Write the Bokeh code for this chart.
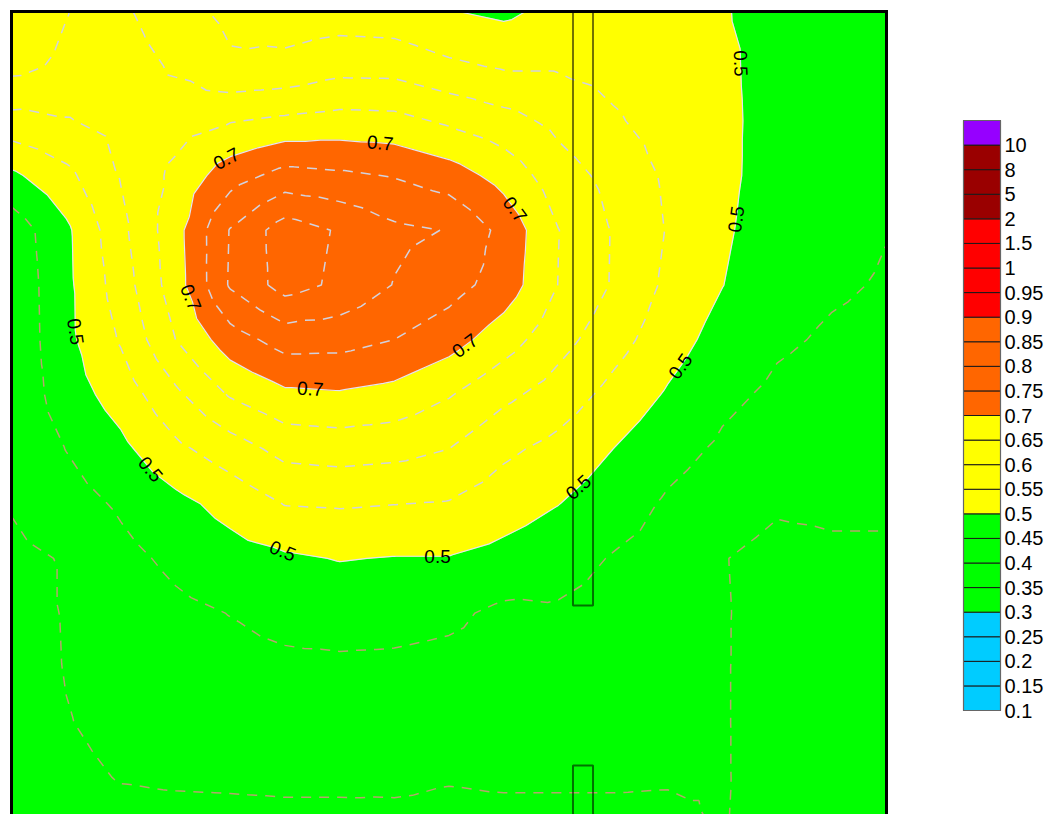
import numpy as np
from contourpy import contour_generator
from bokeh.plotting import figure
from bokeh.models import Range1d
from bokeh.layouts import row
from bokeh.embed import file_html
from bokeh.resources import INLINE
from bokeh.core.properties import value

# ---------------- data ----------------
grid_x = [0.0, 6.25, 12.5, 18.75, 25.0, 31.25, 37.5, 43.75, 50.0, 56.25, 62.5, 68.75, 75.0, 81.25, 87.5, 93.75, 100.0]
grid_y = [100.0, 93.75, 87.5, 81.25, 75.0, 68.75, 62.5, 56.25, 50.0, 43.75, 37.5, 31.25, 25.0, 18.75, 12.5, 6.25, 0.0]

row_00 = [0.690, 0.652, 0.610, 0.565, 0.540, 0.530, 0.525, 0.520, 0.502, 0.490, 0.515, 0.525, 0.520, 0.503, 0.485, 0.478, 0.470]
row_01 = [0.665, 0.640, 0.625, 0.593, 0.556, 0.560, 0.582, 0.581, 0.559, 0.545, 0.545, 0.535, 0.525, 0.510, 0.480, 0.475, 0.465]
row_02 = [0.584, 0.597, 0.615, 0.628, 0.647, 0.660, 0.668, 0.665, 0.642, 0.618, 0.587, 0.556, 0.530, 0.512, 0.480, 0.472, 0.460]
row_03 = [0.490, 0.537, 0.603, 0.6625, 0.728, 0.767, 0.759, 0.747, 0.724, 0.682, 0.622, 0.585, 0.542, 0.512, 0.478, 0.468, 0.456]
row_04 = [0.420, 0.490, 0.587, 0.681, 0.803, 0.875, 0.845, 0.810, 0.798, 0.735, 0.651, 0.597, 0.547, 0.508, 0.472, 0.462, 0.451]
row_05 = [0.412, 0.488, 0.574, 0.676, 0.806, 0.870, 0.840, 0.798, 0.770, 0.728, 0.649, 0.596, 0.540, 0.501, 0.465, 0.455, 0.447]
row_06 = [0.410, 0.487, 0.555, 0.650, 0.727, 0.771, 0.768, 0.750, 0.721, 0.673, 0.618, 0.570, 0.522, 0.481, 0.456, 0.445, 0.440]
row_07 = [0.412, 0.475, 0.522, 0.590, 0.655, 0.690, 0.695, 0.684, 0.654, 0.612, 0.578, 0.535, 0.495, 0.460, 0.442, 0.433, 0.430]
row_08 = [0.410, 0.451, 0.488, 0.539, 0.576, 0.616, 0.622, 0.616, 0.600, 0.560, 0.535, 0.500, 0.466, 0.443, 0.425, 0.422, 0.420]
row_09 = [0.403, 0.430, 0.4565, 0.486, 0.517, 0.552, 0.555, 0.551, 0.547, 0.523, 0.501, 0.473, 0.444, 0.425, 0.406, 0.408, 0.405]
row_10 = [0.390, 0.403, 0.437, 0.460, 0.480, 0.493, 0.502, 0.498, 0.498, 0.485, 0.469, 0.447, 0.435, 0.402, 0.385, 0.392, 0.395]
row_11 = [0.380, 0.403, 0.420, 0.440, 0.451, 0.463, 0.469, 0.466, 0.459, 0.440, 0.444, 0.435, 0.425, 0.403, 0.385, 0.385, 0.386]
row_12 = [0.375, 0.402, 0.415, 0.430, 0.437, 0.441, 0.442, 0.441, 0.437, 0.433, 0.430, 0.425, 0.418, 0.403, 0.383, 0.383, 0.383]
row_13 = [0.370, 0.398, 0.412, 0.422, 0.425, 0.426, 0.425, 0.424, 0.419, 0.420, 0.418, 0.415, 0.410, 0.403, 0.383, 0.382, 0.382]
row_14 = [0.365, 0.390, 0.402, 0.405, 0.406, 0.407, 0.407, 0.406, 0.402, 0.404, 0.404, 0.404, 0.403, 0.403, 0.384, 0.382, 0.381]
row_15 = [0.360, 0.380, 0.385, 0.385, 0.386, 0.388, 0.388, 0.390, 0.390, 0.390, 0.390, 0.390, 0.390, 0.402, 0.385, 0.382, 0.380]
row_16 = [0.355, 0.370, 0.375, 0.375, 0.376, 0.377, 0.377, 0.380, 0.380, 0.380, 0.380, 0.380, 0.380, 0.395, 0.380, 0.378, 0.377]

legend_levels = [0.1, 0.15, 0.2, 0.25, 0.3, 0.35, 0.4, 0.45, 0.5, 0.55, 0.6, 0.65,
                 0.7, 0.75, 0.8, 0.85, 0.9, 0.95, 1, 1.5, 2, 5, 8, 10]
band_edges = [0.1, 0.3, 0.5, 0.7, 0.9, 2, 10]
band_colors = ["#00CCFF", "#00FF00", "#FFFF00", "#FF6600", "#FF0000", "#9A0000"]
over_color = "#9600FF"

low_dashed_levels = [0.35, 0.4, 0.45]
high_dashed_levels = [0.55, 0.6, 0.65, 0.75, 0.8, 0.85]
labeled_levels = [0.5, 0.7]

# contour label hints: level, x, y, approximate direction (deg)
label_level = [0.7, 0.7, 0.7, 0.7, 0.7, 0.7, 0.5, 0.5, 0.5, 0.5, 0.5, 0.5, 0.5, 0.5]
label_x = [24.69, 42.17, 57.37, 20.23, 52.0, 34.17, 83.31, 82.29, 76.8, 64.91, 48.69, 31.2, 15.43, 7.43]
label_y = [82.97, 85.26, 77.26, 67.2, 61.6, 57.03, 94.06, 76.34, 59.2, 45.49, 38.51, 38.86, 47.31, 63.43]
label_dir = [35, -5, -70, -65, 40, -10, -80, 75, 55, 45, 15, -15, -45, -80]

# obstacles (walls)
wall_left = [64.17, 64.17]
wall_right = [66.46, 66.46]
wall_top = [100.0, 13.83]
wall_bottom = [32.11, -2.0]

# ---------------- main plot ----------------
PX = 8.75            # pixels per data unit (both axes)
OFF = 11             # page pixel of data 0 (x) / data 100 (y)
FIG_W, FIG_H = 889, 814
x_start = -OFF / PX
x_end = x_start + FIG_W / PX
y_end = 100 + OFF / PX
ybot = y_end - FIG_H / PX

z = np.array([row_00, row_01, row_02, row_03, row_04, row_05, row_06, row_07, row_08,
              row_09, row_10, row_11, row_12, row_13, row_14, row_15, row_16], dtype=float)[::-1].copy()
xs_grid = np.array(grid_x, dtype=float)
ys_grid = np.array(grid_y, dtype=float)[::-1].copy()

p = figure(width=FIG_W, height=FIG_H,
           x_range=Range1d(x_start, x_end), y_range=Range1d(ybot, y_end),
           x_axis_location=None, y_axis_location=None, min_border=0,
           output_backend="svg", toolbar_location=None)
p.grid.visible = False
p.outline_line_color = None

gen = contour_generator(x=xs_grid, y=ys_grid, z=z, quad_as_tri=True, fill_type="OuterOffset")

# filled bands
for j, col in enumerate(band_colors):
    pts_list, off_list = gen.filled(band_edges[j], band_edges[j + 1])
    mx, my = [], []
    for pts, offs in zip(pts_list, off_list):
        rx, ry = [], []
        for a, b in zip(offs[:-1], offs[1:]):
            rx.append(list(pts[a:b, 0]))
            ry.append(list(pts[a:b, 1]))
        mx.append([rx])
        my.append([ry])
    if mx:
        p.multi_polygons(mx, my, fill_color=col, line_color=col, line_width=0.6)

def add_lines(levels, color, width, dash):
    lx, ly = [], []
    for lev in levels:
        for seg in gen.lines(lev):
            lx.append(list(seg[:, 0]))
            ly.append(list(seg[:, 1]))
    if lx:
        p.multi_line(lx, ly, line_color=color, line_width=width, line_dash=dash)

add_lines(low_dashed_levels, "#B4A46E", 1.5, "10 8")
add_lines(high_dashed_levels, "#D2D2DE", 1.5, "10 8")
add_lines(labeled_levels, "#E4E4F2", 1.2, "solid")

p.quad(left=wall_left, right=wall_right, top=wall_top, bottom=wall_bottom,
       fill_color=None, line_color="black", line_alpha=0.55, line_width=2)

# labels placed on the contour nearest to each hint
tx, ty, ta, tt = [], [], [], []
for lev, ax, ay, hd in zip(label_level, label_x, label_y, label_dir):
    best = None
    for seg in gen.lines(lev):
        for k in range(len(seg) - 1):
            a, b = seg[k], seg[k + 1]
            ab = b - a
            L2 = float(ab @ ab)
            if L2 == 0:
                continue
            t = max(0.0, min(1.0, float((np.array([ax, ay]) - a) @ ab) / L2))
            q = a + t * ab
            d = float(np.hypot(q[0] - ax, q[1] - ay))
            if best is None or d < best[0]:
                best = (d, q, ab)
    _, q, ab = best
    ang = np.arctan2(ab[1], ab[0])
    if np.cos(ang - np.radians(hd)) < 0:
        ang += np.pi
    tx.append(q[0]); ty.append(q[1]); ta.append(ang); tt.append(f"{lev:g}")

p.text(tx, ty, text=tt, angle=ta, text_font=value("Liberation Sans"), text_font_size="19px",
       text_color="black", text_align="center", text_baseline="middle")

# frame border (left, top, right)
p.line([0, 0, 100, 100], [ybot - 2, 100, 100, ybot - 2], line_color="black",
       line_width=3, line_join="miter")

# ---------------- legend ----------------
LW, LH = 155, FIG_H
leg = figure(width=LW, height=LH, x_range=Range1d(0, LW), y_range=Range1d(LH, 0),
             x_axis_location=None, y_axis_location=None, min_border=0,
             output_backend="svg", toolbar_location=None)
leg.grid.visible = False
leg.outline_line_color = None

n = len(legend_levels)
box_top, box_bottom = 120.0, 710.0
box_l, box_r = 74, 111
bh = (box_bottom - box_top) / n
bl, br, bt, bb, bc = [], [], [], [], []
for k in range(n):
    bot = box_bottom - k * bh
    bl.append(box_l); br.append(box_r); bb.append(bot); bt.append(bot - bh)
    if k < n - 1:
        lv = legend_levels[k]
        col = band_colors[-1]
        for j in range(len(band_colors)):
            if band_edges[j] <= lv < band_edges[j + 1]:
                col = band_colors[j]
                break
    else:
        col = over_color
    bc.append(col)
leg.quad(left=bl, right=br, top=bt, bottom=bb, fill_color=bc, line_color="#1a1a1a", line_width=1)
leg.quad(left=[box_l], right=[box_r], top=[box_top], bottom=[box_bottom], fill_color=None,
         line_color="#666666", line_width=1.2)
leg.text([box_r + 4] * n, [box_bottom - k * bh for k in range(n)], text=[f"{v:g}" for v in legend_levels],
         text_font=value("Liberation Sans"), text_font_size="20px", text_color="black",
         text_align="left", text_baseline="middle")

layout = row(p, leg)
open("out.html", "w").write(file_html(layout, INLINE))
